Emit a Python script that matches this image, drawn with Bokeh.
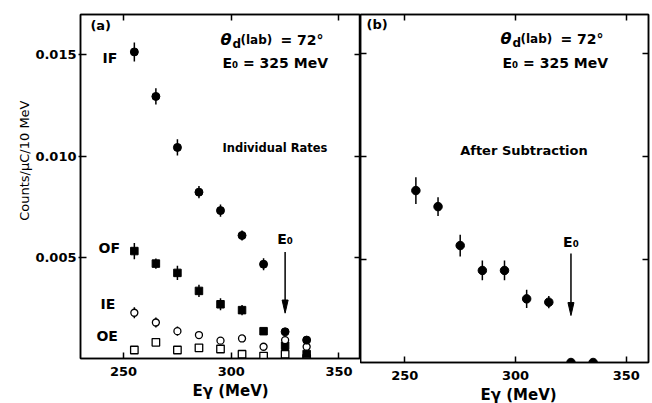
from bokeh.embed import file_html
from bokeh.layouts import row
from bokeh.models import (ColumnDataSource, CustomLabelingPolicy, FixedTicker, Label,
                          LinearAxis, Range1d, Title)
from bokeh.plotting import figure
from bokeh.resources import INLINE

FONT = "DejaVu Sans"

# Photon energy bins (MeV)
energy = [255, 265, 275, 285, 295, 305, 315, 325, 335]

# (a) individual rates, counts/uC/10 MeV
if_rate = [0.01515, 0.01295, 0.01043, 0.00822, 0.00731, 0.00608, 0.00466, 0.00132, 0.00091]
if_err = [0.00047, 0.00040, 0.00040, 0.00030, 0.00030, 0.00025, 0.00030, 0.0, 0.0]
of_rate = [0.00531, 0.00469, 0.00423, 0.00334, 0.00268, 0.00239, 0.00135, 0.00063, 0.00022]
of_err = [0.00040, 0.00025, 0.00035, 0.00030, 0.00030, 0.00025, 0.0, 0.0, 0.0]
ie_rate = [0.00226, 0.00178, 0.00135, 0.00116, 0.00088, 0.00099, 0.00058, 0.00091, 0.00058]
ie_err = [0.00027, 0.00025, 0.00023, 0.0, 0.0, 0.0, 0.0, 0.0, 0.0]
oe_rate = [0.00042, 0.00080, 0.00042, 0.00053, 0.00047, 0.00021, 0.00012, 0.00021, 0.0]

# (b) after subtraction
sub_rate = [0.00835, 0.00757, 0.00568, 0.00447, 0.00447, 0.00309, 0.00293, 0.0, 0.0]
sub_err = [0.00065, 0.00045, 0.00053, 0.00048, 0.00048, 0.00044, 0.00030, 0.0, 0.0]

E0 = 325
x_ticks = [250, 300, 350]
x_tick_labels = ["250", "300", "350"]
y_ticks = [0.005, 0.010, 0.015]
y_tick_labels = ["0.005", "0.010", "0.015"]

# tick marks only, no labels, for the inner frame edges
NO_LABELS = CustomLabelingPolicy(code="for (const i of Array.from(indices)) indices.unset(i); return indices")


def source(rate, err=None):
    err = err or [0.0] * len(rate)
    return ColumnDataSource(dict(
        x=energy, y=rate,
        lo=[r - e for r, e in zip(rate, err)],
        hi=[r + e for r, e in zip(rate, err)],
    ))


def style_axis(ax, ticks, labels=None):
    ax.ticker = FixedTicker(ticks=ticks)
    ax.axis_line_color = "black"
    ax.axis_line_width = 1.5
    ax.major_tick_line_color = "black"
    ax.major_tick_line_width = 1.5
    ax.major_tick_in = 6
    ax.major_tick_out = 0
    ax.minor_tick_line_color = None
    if labels:
        ax.major_label_overrides = dict(zip(ticks, labels))
        ax.major_label_text_font = FONT
        ax.major_label_text_font_style = "bold"
        ax.major_label_text_font_size = "13px"
        ax.major_label_text_color = "black"
    else:
        ax.major_label_policy = NO_LABELS
        ax.major_label_text_font_size = "0px"
        ax.major_label_standoff = 0


def panel(frame_w, frame_h, y_max, border_left, border_right, border_bottom, left_labels):
    p = figure(
        frame_width=frame_w, frame_height=frame_h,
        x_range=Range1d(230, 360), y_range=Range1d(0, y_max),
        min_border_left=border_left, min_border_right=border_right,
        min_border_top=14, min_border_bottom=border_bottom,
        output_backend="svg", toolbar_location=None,
    )
    p.grid.visible = False
    p.outline_line_color = "black"
    p.outline_line_width = 1.5
    p.background_fill_color = "white"
    p.border_fill_color = "white"
    style_axis(p.xaxis[0], x_ticks, x_tick_labels)
    p.xaxis[0].major_label_standoff = 8
    style_axis(p.yaxis[0], y_ticks, y_tick_labels if left_labels else None)
    if left_labels:
        p.yaxis[0].major_tick_out = 2
        p.yaxis[0].major_label_standoff = 2
    top = LinearAxis()
    style_axis(top, x_ticks)
    p.add_layout(top, "above")
    right = LinearAxis()
    style_axis(right, y_ticks)
    p.add_layout(right, "right")
    return p


def axis_title(p, text, side, align, offset, size, style="bold", standoff=2):
    p.add_layout(Title(text=text, align=align, offset=offset, text_font=FONT,
                       text_font_style=style, text_font_size=size, text_color="black",
                       standoff=standoff), side)


def put(p, x, y, text, size="14px", style="bold", align="left", x_offset=0, y_offset=0):
    p.add_layout(Label(
        x=x, y=y, text=text, text_font=FONT, text_font_style=style,
        text_font_size=size, text_color="black", text_align=align,
        text_baseline="middle", x_offset=x_offset, y_offset=y_offset,
    ))


def header(p, x, y_theta, y_e0):
    put(p, x, y_theta, "θ", size="16px", style="bold italic", x_offset=-2)
    put(p, x, y_theta, "d", size="12px", x_offset=10, y_offset=-4)
    put(p, x, y_theta, "(lab)", size="12px", x_offset=18, y_offset=0)
    put(p, x, y_theta, "= 72°", size="14px", x_offset=58)
    put(p, x, y_e0, "E₀ = 325 MeV", size="14px")


def arrow(p, y_start, y_tip, half_w, head_len):
    p.segment(x0=[E0], y0=[y_start], x1=[E0], y1=[y_tip + head_len],
              line_color="black", line_width=1.5)
    p.patch(x=[E0 - half_w, E0 + half_w, E0], y=[y_tip + head_len, y_tip + head_len, y_tip],
            fill_color="black", line_color="black", line_width=1)


def errorbars(p, src):
    p.segment(x0="x", y0="lo", x1="x", y1="hi", source=src, line_color="black", line_width=1.5)


# ---- (a) individual rates ----
pa = panel(280, 344, 0.017, 80, 0, 45, True)

s_if, s_of, s_ie, s_oe = source(if_rate, if_err), source(of_rate, of_err), source(ie_rate, ie_err), source(oe_rate)
for s in (s_if, s_of, s_ie):
    errorbars(pa, s)
pa.scatter("x", "y", source=s_oe, marker="square", size=7.5,
           fill_color="white", line_color="black", line_width=1.3)
pa.scatter("x", "y", source=s_of, marker="square", size=7.5,
           fill_color="black", line_color="black")
pa.scatter("x", "y", source=s_ie, marker="circle", size=7,
           fill_color="white", line_color="black", line_width=1.3)
pa.scatter("x", "y", source=s_if, marker="circle", size=8,
           fill_color="black", line_color="black")

arrow(pa, 0.00526, 0.00224, 1.4, 0.00065)
put(pa, E0, 0.00593, "E₀", align="center")

put(pa, 234.6, 0.01648, "(a)", size="13px")
put(pa, 240.2, 0.01485, "IF")
put(pa, 238.4, 0.00544, "OF")
put(pa, 239.3, 0.00268, "IE")
put(pa, 237.4, 0.00112, "OE")
header(pa, 295.9, 0.01574, 0.0146)
put(pa, 295.9, 0.01042, "Individual Rates", size="11.5px")

axis_title(pa, "Counts/μC/10 MeV", "left", "right", 86, "13px", style="normal")
axis_title(pa, "Eγ (MeV)", "below", "left", 112, "15px")

# ---- (b) after subtraction ----
pb = panel(288, 348, 0.0169, 0, 4, 41, False)

s_sub = source(sub_rate, sub_err)
errorbars(pb, s_sub)
pb.scatter("x", "y", source=s_sub, marker="circle", size=8.5,
           fill_color="black", line_color="black")

arrow(pb, 0.00529, 0.00228, 1.36, 0.00063)
put(pb, E0, 0.00583, "E₀", align="center")

put(pb, 232.7, 0.01641, "(b)", size="13px")
header(pb, 294.1, 0.01573, 0.01456)
put(pb, 275.0, 0.01029, "After Subtraction", size="13px")
axis_title(pb, "Eγ (MeV)", "below", "left", 120, "15px")

layout = row(pa, pb)
open("out.html", "w").write(file_html(layout, INLINE))
